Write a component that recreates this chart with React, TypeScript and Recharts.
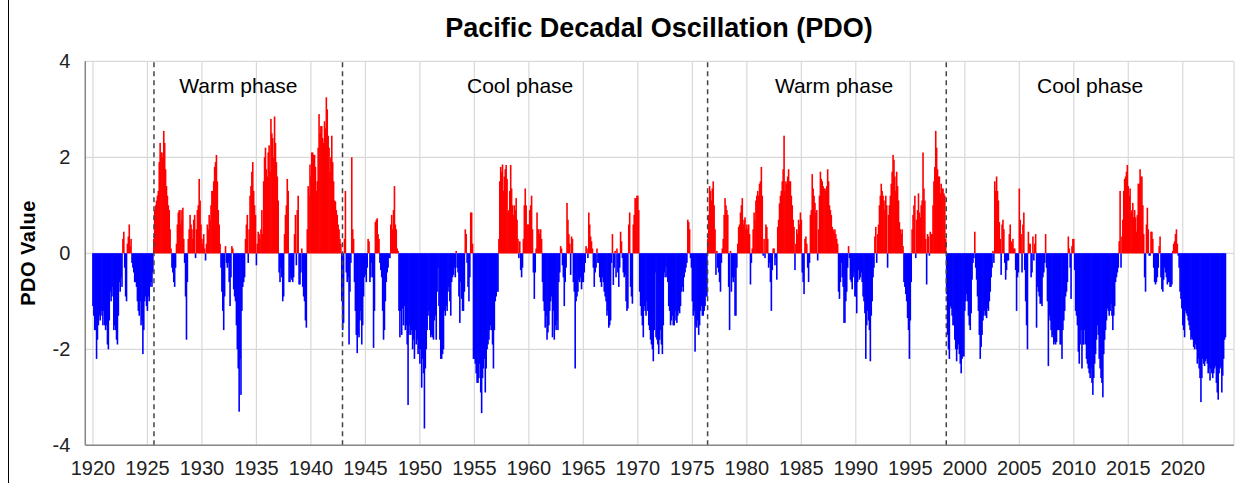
import { BarChart, Bar, Cell, XAxis, YAxis, CartesianGrid, ReferenceLine, ReferenceDot } from "recharts";

// Monthly PDO index, one row per year (Jan..Dec)
const pdo1920s = [
  -1.1, -1.3, -1.6, -1.6, -2.2, -1.8, -1.5, -1.3, -1.4, -1.2, -1.3, -1.5,
  -1.2, -1.5, -1.6, -1.5, -1.9, -2.0, -1.4, -0.8, -1.0, -0.9, -0.7, -1.6,
  -1.5, -1.6, -1.8, -1.9, -1.3, -0.6, -0.8, -0.5, -0.7, 0.3, 0.45, -0.3,
  -0.9, -1.0, 0.2, 0.35, 0.6, 0.15, 0.3, -0.2, -0.3, -0.4, -0.6, -0.6,
  -0.7, -1.0, -1.2, -1.3, -1.0, -1.5, -1.4, -2.1, -1.6, -1.0, -0.9, -1.1,
  -1.2, -0.9, -1.0, -0.7, -0.6, -0.7, -0.4, 0.3, 0.9, 1.0, 1.1, 1.2,
  1.3, 1.9, 2.3, 2.1, 2.1, 2.0, 2.55, 2.3, 1.75, 1.4, 1.2, 1.0,
  0.9, 0.5, 0.1, -0.3, -0.4, -0.6, -0.7, -0.3, 0.2, 0.6, 0.85, 0.9,
  0.6, 0.9, 0.7, 0.95, 0.3, -0.2, -0.9, -1.8, -0.6, 0.3, 0.5, 0.8,
  0.6, 0.5, 0.3, 0.7, 0.8, -0.1, 0.5, 0.9, 1.0, 1.55, 1.1, 0.6,
];

const pdo1930s = [
  0.3, 0.2, 0.4, 0.1, -0.15, 0.2, 0.6, 0.5, 0.8, 0.7, 1.0, 1.3,
  1.3, 1.5, 1.8, 1.9, 2.05, 1.5, 0.9, 0.6, 0.2, -0.3, -0.8, -1.2,
  -1.6, -0.9, 0.15, -0.2, -0.3, -0.2, -0.6, -1.1, -0.5, 0.15, 0.1, -0.75,
  -0.9, -1.0, -1.5, -2.0, -2.4, -3.3, -2.2, -2.95, -1.2, -0.7, -0.6, -0.5,
  0.3, 0.6, 0.8, -0.2, 0.5, 1.2, 1.4, 1.7, 1.9, 1.3, 1.0, 0.8,
  -0.25, 0.2, 0.45, 0.4, 0.3, 0.5, 0.9, 0.4, 1.5, 2.0, 2.2, 1.75,
  1.6, 2.1, 2.25, 1.7, 2.8, 2.5, 2.4, 2.0, 2.85, 2.3, 1.9, 1.6,
  1.1, -0.4, -0.6, -0.3, -0.5, -1.0, -0.9, 0.4, 0.8, 1.0, 1.55, 1.3,
  -0.6, -0.6, -0.5, -0.55, -0.6, -0.5, 0.4, 0.8, -0.25, 0.9, 1.2, -0.65,
  -0.65, -0.4, 0.1, -0.7, -0.9, -1.0, -1.4, -1.55, 0.5, 1.4, 1.2, 1.85,
];

const pdo1940s = [
  1.6, 2.1, 2.1, 2.05, 2.05, 1.8, 1.3, 1.5, 2.2, 2.9, 2.5, 2.65,
  2.65, 2.4, 2.3, 2.75, 2.6, 3.25, 3.0, 2.45, 2.2, 1.7, 2.0, 2.45,
  1.9, 1.5, 1.1, 1.08, 0.9, 0.8, 0.6, 0.5, 0.3, 0.2, -1.0, -1.6,
  -1.45, 0.3, 1.3, -0.4, -0.6, -0.5, -1.9, -0.8, -0.2, 2.0, 0.5, 0.3,
  -0.6, -1.2, -1.7, -2.08, -1.7, -1.75, -1.4, -1.2, -1.9, -1.5, -0.9, -0.5,
  -0.45, -0.6, -0.3, 0.3, 0.25, -0.6, -0.5, -0.2, -0.5, -1.97, -1.2, 0.65,
  0.7, 0.73, 0.4, 0.3, -0.2, -0.35, -0.5, -1.2, -1.8, -1.6, -1.0, -0.6,
  -0.4, -0.3, -0.1, -0.1, 0.6, 0.8, 0.5, 0.9, 1.4, 0.6, 0.5, 0.1,
  0.05, -1.2, -1.75, -1.2, -1.7, -1.15, -1.5, -1.1, -1.6, -1.5, -1.9, -3.16,
  -1.7, -1.5, -1.7, -1.6, -2.0, -1.8, -2.2, -1.6, -1.9, -1.8, -2.1, -2.0,
];

const pdo1950s = [
  -2.3, -2.0, -2.8, -2.2, -2.5, -3.65, -2.4, -2.0, -1.6, -1.3, -1.2, -1.6,
  -1.75, -1.7, -1.75, -1.8, -1.4, -1.3, -1.8, -0.8, -0.3, -1.1, -1.8, -2.2,
  -2.2, -2.1, -2.0, -1.2, -1.3, -1.1, -1.2, -0.8, -0.7, -1.0, -1.3, -0.6,
  -0.5, -0.45, -0.3, -0.5, 0.05, -0.3, -0.4, -0.9, -1.45, -0.6, -0.95, -1.2,
  -1.2, -0.8, 0.5, 0.4, -0.2, -0.7, -1.0, -0.5, 0.85, 0.85, 0.2, -2.2,
  -2.2, -2.3, -2.5, -2.7, -2.7, -2.6, -2.3, -2.9, -3.33, -2.6, -2.4, -2.2,
  -2.9, -2.4, -2.0, -1.9, -1.8, -1.6, -1.5, -1.6, -1.9, -2.4, -1.6, -1.0,
  -0.9, -0.8, -0.8, 0.3, 1.5, 1.8, 1.7, 1.85, 1.3, 1.6, 1.75, 1.84,
  1.55, 0.85, 0.9, 1.3, 1.84, 1.35, 1.0, 0.8, 1.0, 0.9, 1.15, 0.7,
  0.3, -0.1, 0.25, -0.35, -0.5, -0.3, 0.3, 1.0, 1.35, 1.0, 0.6, 0.6,
];

const pdo1960s = [
  0.6, 0.9, 1.0, 1.2, 0.5, -0.4, -0.95, -0.4, 0.1, 0.85, 0.5, 0.5,
  0.4, 0.5, 0.3, -0.6, -1.0, -1.2, -1.55, -1.3, -1.8, -1.65, -1.5, -1.2,
  -1.0, -0.9, -1.75, -1.2, -1.8, -1.5, -1.6, -1.4, -1.6, -0.6, -0.4, 0.15,
  0.1, -0.25, -0.5, -1.1, -0.6, -0.3, 1.05, 0.7, 0.4, 0.2, -0.45, 0.35,
  0.3, -0.6, -0.8, -2.4, -1.0, -0.9, -0.8, -0.55, -0.6, -0.5, -0.75, -0.6,
  -0.6, -0.4, -0.2, 0.15, 0.1, -0.1, 0.85, 0.6, 0.35, 0.25, 0.1, -0.3,
  -0.7, -0.4, -0.3, 0.1, -0.2, -0.2, -0.5, -0.6, -0.7, -0.5, -0.6, -0.8,
  -0.9, -1.0, -1.3, -1.2, -1.55, -1.5, -1.4, -0.2, 0.4, -0.66, -0.3, 0.05,
  -0.5, 0.1, -0.4, -0.7, -0.3, 0.45, 0.25, -0.1, -0.4, -0.5, -0.45, -1.0,
  -1.2, -1.15, 0.6, 0.85, -0.7, -0.9, -1.05, 0.6, 0.8, 1.15, 1.15, 1.2,
];

const pdo1970s = [
  1.2, 0.9, -0.8, -1.1, -1.3, -1.5, -1.75, -1.1, -1.2, -1.3, -1.0, -1.2,
  -1.5, -1.6, -1.8, -1.9, -2.0, -2.25, -1.6, -0.4, -1.75, -1.8, -1.9, -2.1,
  -1.8, -1.6, -1.9, -2.1, -1.5, -0.4, -0.5, -0.28, -0.5, -0.6, -1.1, -1.2,
  -1.5, -1.4, -1.3, -1.5, -1.5, -1.2, -1.4, -1.45, -1.3, -1.2, -1.25, -1.1,
  -0.8, -0.7, -0.8, -0.5, -0.4, -0.3, -0.2, 0.7, 0.65, 0.5, -0.1, -0.3,
  -1.0, -1.3, -1.2, -2.05, -1.5, -1.55, -1.4, -1.7, -1.5, -1.2, -1.1, -1.3,
  -1.3, -1.2, -1.1, -0.9, -0.9, 0.3, 0.8, 1.4, 1.3, 1.1, 1.35, 1.5,
  1.0, 0.5, -0.45, 0.05, -0.3, -0.4, -0.6, -0.8, -0.2, 0.1, 0.3, 0.8,
  1.15, 1.0, 0.9, 0.8, -0.7, -1.6, 0.05, -0.8, -0.5, -0.6, -0.5, -1.3,
  -1.3, -0.3, 0.2, 0.55, 0.6, 0.85, 1.0, 1.15, 0.6, 0.7, 0.75, 0.5,
];

const pdo1980s = [
  0.6, 0.5, 0.6, 0.4, -0.65, -0.2, 0.1, 0.5, 0.85, 0.7, 1.1, 1.2,
  1.3, 1.2, 1.45, 1.5, 1.8, 1.2, -0.05, 0.3, -0.1, 0.6, 0.55, 0.3,
  -0.3, -0.2, -0.6, -1.2, -0.35, 0.1, 0.1, -0.25, -0.1, -0.55, 0.55, 0.7,
  1.04, 1.2, 1.3, 1.5, 1.75, 2.45, 1.3, 1.5, 1.45, 1.6, 1.75, 1.5,
  1.5, 1.2, 1.0, 0.7, 0.55, -0.35, 0.2, 0.5, 0.4, 0.7, 0.6, 0.85,
  0.7, -0.4, -0.6, -0.85, 0.3, 0.35, 0.2, -0.3, -0.6, -0.2, 0.8, 0.9,
  1.65, 1.35, 1.2, 1.05, 0.85, 0.9, -0.15, 0.5, 1.2, 1.7, 1.55, 1.5,
  1.4, 1.35, 1.35, 1.3, 1.4, 1.75, 1.5, 1.0, 0.9, 0.8, 0.55, 0.5,
  0.45, 0.5, 0.4, 0.3, 0.2, -0.8, -0.95, -0.6, -0.2, -0.5, -0.7, -1.45,
  -1.45, -1.0, -0.8, -0.3, 0.15, -0.1, -0.55, -0.6, -0.75, -0.5, -0.4, -0.9,
];

const pdo1990s = [
  -0.9, -1.25, -0.6, -0.35, -0.55, -0.5, -0.4, -0.6, -0.9, -1.0, -1.25, -2.2,
  -1.5, -1.2, -1.4, -1.6, -2.25, -1.3, -1.0, -0.5, -0.3, 0.35, 0.55, -0.2,
  0.4, 0.6, 1.0, 1.2, 1.45, 1.3, 1.2, 1.1, 0.9, 1.2, 1.0, -0.3,
  0.8, 1.0, 1.2, 1.45, 1.7, 2.05, 1.95, 1.6, 1.3, 1.7, 1.4, 1.1,
  0.65, 0.5, 0.4, 0.5, 0.15, -0.6, -0.7, -0.85, -1.0, -1.35, -1.6, -2.2,
  -1.4, -0.6, 0.5, 0.8, 1.0, 1.2, -0.1, 0.7, 0.9, 1.25, 0.85, 0.75,
  1.0, 1.1, 2.1, 1.35, 1.1, 0.3, -0.65, 0.4, 0.35, -0.05, 0.45, 0.4,
  0.4, 1.0, 1.5, 1.8, 2.55, 2.2, 1.75, 1.6, 1.6, 1.25, 1.45, 1.35,
  1.35, 1.25, 1.2, 0.3, -0.85, -1.7, -2.0, -2.2, -1.1, -1.15, -1.3, -1.5,
  -1.5, -1.8, -2.0, -2.25, -2.0, -1.9, -2.1, -2.3, -2.5, -2.2, -2.15, -2.15,
];

const pdo2000s = [
  -1.2, -1.0, -0.85, -1.0, -1.3, -1.5, -1.6, -1.25, -0.55, -0.2, -0.1, 0.45,
  -0.3, -0.55, -0.9, -1.2, -1.7, -2.2, -1.95, -1.7, -1.4, -1.3, -1.2, -1.3,
  -1.35, -1.15, -1.2, -1.0, -0.8, -0.5, -0.3, 0.05, -0.2, 1.5, 1.3, 1.6,
  1.3, 1.1, 0.65, 0.3, -0.45, 0.6, 0.7, 0.5, -0.2, -0.55, -0.35, -0.15,
  -0.15, 0.4, 0.6, 0.25, 0.2, 0.3, 0.1, 0.1, -0.35, -1.2, -0.5, -0.4,
  1.35, 0.7, 0.4, -0.4, 0.6, 0.85, -0.35, -1.0, -1.5, -2.0, 0.45, 0.2,
  0.2, -0.5, -0.4, 0.35, -0.15, 0.2, 0.4, -1.55, -0.7, -0.8, -0.9, -1.05,
  -1.05, -1.1, -0.5, -0.4, -0.2, 0.4, -0.3, -1.0, -2.35, -1.3, -1.4, -1.6,
  -1.75, -1.7, -1.9, -1.85, -1.9, -1.85, -1.6, -1.6, -1.6, -1.9, -1.9, -2.2,
  -1.6, -1.4, -1.2, -0.9, -0.8, -0.6, 0.35, 0.1, -0.3, -0.95, 0.15, 0.3,
];

const pdo2010s = [
  0.3, -0.35, -1.2, -1.3, -1.5, -2.05, -2.3, -1.9, -1.6, -2.4, -1.9, -1.9,
  -1.6, -1.9, -2.2, -2.3, -2.4, -2.5, -2.6, -2.4, -2.7, -2.95, -2.6, -2.3,
  -2.1, -1.8, -1.5, -1.7, -2.2, -2.4, -2.6, -2.7, -3.0, -2.1, -1.8, -1.6,
  -1.4, -1.15, -1.2, -1.3, -1.2, -1.05, -1.3, -1.6, -1.3, -1.1, -0.6, -0.5,
  -0.4, -0.3, 0.25, 1.3, -0.3, 0.35, 0.7, 1.3, 1.55, 1.6, 1.7, 1.84,
  1.4, 1.2, 1.35, 0.85, 0.9, 1.05, 0.75, 0.9, 0.75, 0.45, 0.8, 1.45,
  1.45, 1.75, 1.6, 1.6, 1.0, 0.4, -0.5, -0.8, 0.6, 0.95, 0.5, -0.05,
  -0.05, 0.45, 0.45, 0.3, -0.3, -0.6, -0.65, -0.6, -0.5, -0.3, 0.15, 0.35,
  -0.5, -0.75, -0.8, -0.55, -0.3, -0.4, -0.5, -0.65, -0.6, -0.6, -0.7, -0.7,
  -0.65, 0.05, 0.2, 0.25, 0.4, 0.5, 0.2, -0.05, -0.3, -0.8, -0.95, -1.15,
];

const pdo2020s = [
  -1.5, -1.6, -1.75, -1.2, -1.25, -1.3, -1.4, -1.5, -1.6, -1.8, -1.75, -1.8,
  -1.95, -2.0, -1.9, -2.0, -2.3, -2.2, -2.4, -2.6, -3.1, -2.6, -2.2, -2.3,
  -2.35, -2.25, -2.2, -2.3, -2.5, -2.4, -2.65, -2.4, -2.5, -2.6, -2.5, -2.4,
  -2.35, -2.7, -2.9, -3.05, -2.5, -2.4, -2.35, -2.9, -2.55, -2.2, -1.8, -1.75,
];

const yearTicks = [1920, 1925, 1930, 1935, 1940, 1945, 1950, 1955, 1960, 1965, 1970,
  1975, 1980, 1985, 1990, 1995, 2000, 2005, 2010, 2015, 2020];
const valueTicks = [-4, -2, 0, 2, 4];

// regime shifts and the phase between each pair
const shiftYears = [1925.6, 1942.9, 1976.4, 1998.3];
const phaseLabels = ["Warm phase", "Cool phase", "Warm phase", "Cool phase"];
const phaseCenters = [1933.35, 1959.2, 1988.0, 2011.5];

const allMonths = [
  ...pdo1920s, ...pdo1930s, ...pdo1940s, ...pdo1950s, ...pdo1960s,
  ...pdo1970s, ...pdo1980s, ...pdo1990s, ...pdo2000s, ...pdo2010s, ...pdo2020s,
];
const data = allMonths.map((v, i) => ({ t: 1920 + i / 12, pdo: v }));

const FONT = "'Liberation Sans', Arial, sans-serif";
const BAR_W = 1.6;

// Recharts squeezes bars to 90% of the month slot; draw each one a bit wider so they read solid
const MonthBar = (props: any) => {
  const { x, y, width, height, fill } = props;
  if (x == null || y == null) return null;
  const top = Math.min(y, y + height);
  const h = Math.abs(height);
  return <rect x={x + width / 2 - BAR_W / 2} y={top} width={BAR_W} height={h} fill={fill} />;
};

export default function App() {
  return (
    <div style={{ position: "absolute", left: 0, top: 0, width: 1239, height: 483, fontFamily: FONT, background: "#fff" }}>
      <div style={{ position: "absolute", left: 8, top: 0, width: 1, height: 483, background: "#000" }} />
      <div
        style={{
          position: "absolute",
          left: 159,
          width: 1000,
          top: 15,
          textAlign: "center",
          fontSize: 27,
          lineHeight: "27px",
          fontWeight: "bold",
          color: "#000",
        }}
      >
        Pacific Decadal Oscillation (PDO)
      </div>
      <div
        style={{
          position: "absolute",
          left: -72,
          width: 200,
          top: 241,
          textAlign: "center",
          fontSize: 20,
          lineHeight: "24px",
          fontWeight: "bold",
          letterSpacing: 0.5,
          transform: "rotate(-90deg)",
          color: "#000",
        }}
      >
        PDO Value
      </div>
      <div style={{ position: "absolute", left: 9, top: 0 }}>
        <BarChart
          width={1230}
          height={483}
          data={data}
          margin={{ top: 61.3, right: 5, bottom: 0, left: 0 }}
        >
          <CartesianGrid stroke="#d9d9d9" strokeWidth={1.2} />
          <XAxis
            dataKey="t"
            type="number"
            domain={[1919.3, 2024.7]}
            ticks={yearTicks}
            height={37.7}
            tickLine={false}
            tickSize={6}
            tickMargin={9}
            axisLine={{ stroke: "#888", strokeWidth: 1.5 }}
            tick={{ fill: "#222", fontSize: 20, fontFamily: FONT }}
            allowDataOverflow
          />
          <YAxis
            type="number"
            domain={[-4, 4]}
            ticks={valueTicks}
            width={76.3}
            tickLine={false}
            tickSize={6}
            tickMargin={9}
            axisLine={{ stroke: "#888", strokeWidth: 1.5 }}
            tick={{ fill: "#222", fontSize: 20, fontFamily: FONT }}
          />
          <Bar dataKey="pdo" shape={MonthBar} isAnimationActive={false}>
            {data.map((d, i) => (
              <Cell key={i} fill={d.pdo >= 0 ? "#ff0000" : "#0000ff"} />
            ))}
          </Bar>
          {shiftYears.map((x) => (
            <ReferenceLine key={x} x={x} stroke="#444" strokeWidth={1.5} strokeDasharray="5 4" />
          ))}
          {phaseLabels.map((label, i) => (
            <ReferenceDot
              key={i}
              x={phaseCenters[i]}
              y={3.49}
              r={0}
              fill="none"
              stroke="none"
              label={{ value: label, position: "center", fontSize: 21, fill: "#000", fontFamily: FONT }}
            />
          ))}
        </BarChart>
      </div>
    </div>
  );
}
